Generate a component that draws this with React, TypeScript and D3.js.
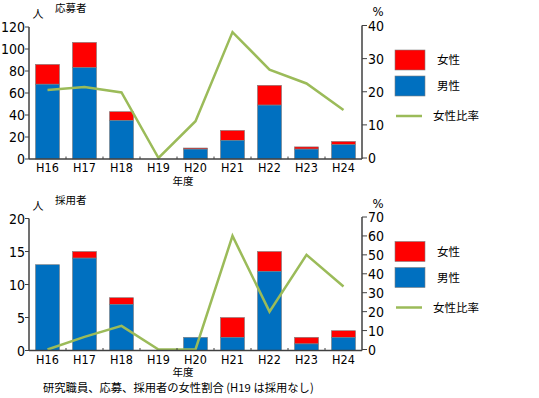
import React from "react";
import * as d3 from "d3";

const years = ["H16", "H17", "H18", "H19", "H20", "H21", "H22", "H23", "H24"];

// 応募者
const appMale = [68, 83, 35, 0, 9, 17, 49, 9, 13];
const appTotal = [86, 106, 43, 0, 10, 26, 67, 11, 16];
const appRatio = [20.5, 21.4, 19.8, 0, 11.1, 38, 26.7, 22.5, 14.5];
const appLeftTicks = [0, 20, 40, 60, 80, 100, 120];
const appRightTicks = [0, 10, 20, 30, 40];

// 採用者
const hireMale = [13, 14, 7, 0, 2, 2, 12, 1, 2];
const hireTotal = [13, 15, 8, 0, 2, 5, 15, 2, 3];
const hireRatio = [0, 6.7, 12.5, 0, 0, 60, 20, 50, 33.3];
const hireLeftTicks = [0, 5, 10, 15, 20];
const hireRightTicks = [0, 10, 20, 30, 40, 50, 60, 70];

const legendLabels = ["女性", "男性", "女性比率"];
const caption = "研究職員、応募、採用者の女性割合 (H19 は採用なし)";

const RED = "#ff0000";
const BLUE = "#0070c0";
const GREEN = "#9bbb59";
const AXIS = "#404040";
const FONT = "'Noto Sans CJK JP', 'Noto Sans', sans-serif";
const NUM_FONT = "'DejaVu Sans Condensed', 'Noto Sans', sans-serif";

type PanelProps = {
  top: number;
  title: string;
  male: number[];
  total: number[];
  ratio: number[];
  leftTicks: number[];
  rightTicks: number[];
};

function Panel({ top, title, male, total, ratio, leftTicks, rightTicks }: PanelProps) {
  const x0 = 29;
  const x1 = 362;
  const yBase = top + 159;
  const yTop = top + 27;

  const x = d3.scaleBand().domain(years).range([x0, x1]).paddingInner(0.35).paddingOuter(0.175);
  const yL = d3.scaleLinear().domain([0, d3.max(leftTicks)!]).range([yBase, yTop]);
  const yR = d3.scaleLinear().domain([0, d3.max(rightTicks)!]).range([yBase - 1, yTop - 1.5]);

  const line = d3
    .line<number>()
    .x((_, i) => x(years[i])! + x.bandwidth() / 2)
    .y((d) => yR(d));

  const gap = x.step() - x.bandwidth();

  return (
    <g>
      {/* bars */}
      {years.map((yr, i) =>
        total[i] > 0 ? (
          <g key={yr}>
            <rect x={x(yr)} y={yL(total[i])} width={x.bandwidth()} height={yL(male[i]) - yL(total[i])}
              fill={RED} stroke="#7f7f7f" strokeWidth={0.6} />
            <rect x={x(yr)} y={yL(male[i])} width={x.bandwidth()} height={yBase - yL(male[i])}
              fill={BLUE} stroke="#7f7f7f" strokeWidth={0.6} />
          </g>
        ) : null
      )}

      {/* ratio line */}
      <path d={line(ratio) || ""} fill="none" stroke={GREEN} strokeWidth={2.5} />

      {/* x axis */}
      <line x1={x0} x2={x1} y1={yBase} y2={yBase} stroke={AXIS} strokeWidth={1.5} />
      {years.slice(1).map((yr) => (
        <line key={"t" + yr} x1={x(yr)! - gap / 2} x2={x(yr)! - gap / 2}
          y1={yBase} y2={yBase - 2.5} stroke={AXIS} strokeWidth={1} />
      ))}
      {years.map((yr) => (
        <text key={"l" + yr} x={x(yr)! + x.bandwidth() / 2} y={yBase + 13} textAnchor="middle"
          fontSize={12.5} fontFamily={NUM_FONT} fill="#000">
          {yr}
        </text>
      ))}
      <text x={183} y={yBase + 25.5} textAnchor="middle" fontSize={10.5}>
        年度
      </text>

      {/* left axis */}
      <line x1={x0} x2={x0} y1={yTop} y2={yBase} stroke={AXIS} strokeWidth={1.5} />
      {leftTicks.map((t) => (
        <g key={"lt" + t}>
          <line x1={x0 - 4} x2={x0} y1={yL(t)} y2={yL(t)} stroke={AXIS} strokeWidth={1} />
          <text x={x0 - 4} y={yL(t) + 5} textAnchor="end" fontSize={14} fontFamily={NUM_FONT}>
            {t}
          </text>
        </g>
      ))}

      {/* right axis */}
      <line x1={x1} x2={x1} y1={yR.range()[1]} y2={yBase} stroke={AXIS} strokeWidth={1.5} />
      {rightTicks.map((t) => (
        <g key={"rt" + t}>
          <line x1={x1} x2={x1 + 5} y1={yR(t)} y2={yR(t)} stroke={AXIS} strokeWidth={1} />
          <text x={x1 + 6} y={yR(t) + 5} textAnchor="start" fontSize={14} fontFamily={NUM_FONT}>
            {t}
          </text>
        </g>
      ))}

      {/* titles */}
      <text x={38} y={top + 18} textAnchor="middle" fontSize={11}>人</text>
      <text x={55} y={top + 12} textAnchor="start" fontSize={10.5}>{title}</text>
      <text x={378} y={top + 16} textAnchor="middle" fontSize={13} fontFamily={NUM_FONT}>%</text>

      {/* legend */}
      <rect x={395} y={top + 50} width={30} height={20} fill={RED} stroke="#7f7f7f" strokeWidth={0.6} />
      <rect x={395} y={top + 76} width={30} height={20} fill={BLUE} stroke="#7f7f7f" strokeWidth={0.6} />
      <line x1={396} x2={422} y1={top + 116} y2={top + 116} stroke={GREEN} strokeWidth={2.5} />
      <text x={437} y={top + 64} fontSize={11.5}>{legendLabels[0]}</text>
      <text x={437} y={top + 90} fontSize={11.5}>{legendLabels[1]}</text>
      <text x={433} y={top + 120} fontSize={11.5}>{legendLabels[2]}</text>
    </g>
  );
}

export default function App() {
  return (
    <svg width={539} height={398} style={{ position: "absolute", left: 0, top: 0, background: "#fff" }}
      fontFamily={FONT}>
      <Panel top={0} title="応募者" male={appMale} total={appTotal} ratio={appRatio}
        leftTicks={appLeftTicks} rightTicks={appRightTicks} />
      <Panel top={191.5} title="採用者" male={hireMale} total={hireTotal} ratio={hireRatio}
        leftTicks={hireLeftTicks} rightTicks={hireRightTicks} />
      <text x={43} y={392} fontSize={11.3}>{caption}</text>
    </svg>
  );
}
